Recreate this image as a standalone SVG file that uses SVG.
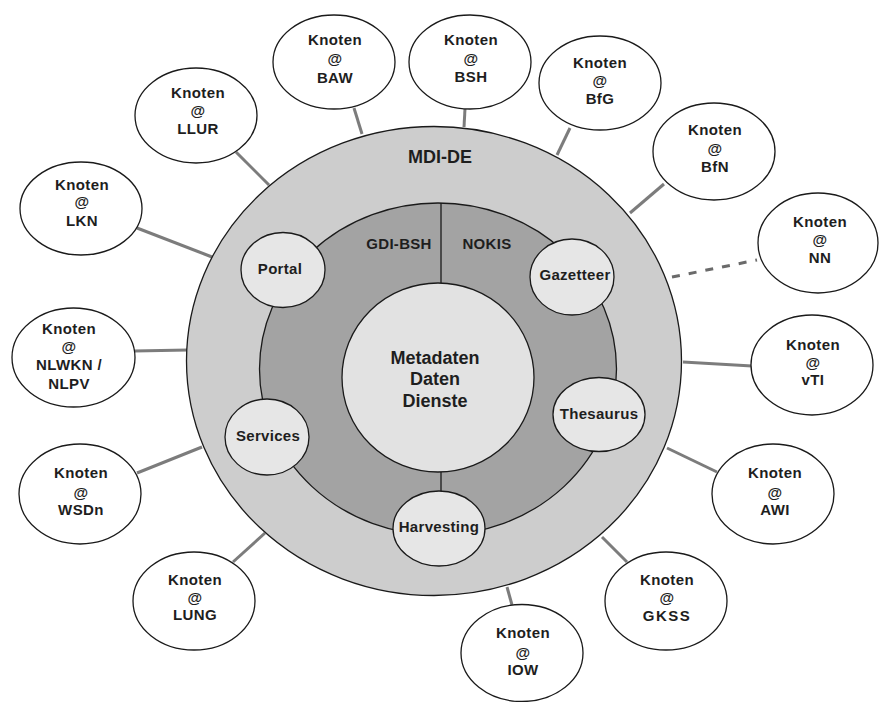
<svg xmlns="http://www.w3.org/2000/svg" width="879" height="702" viewBox="0 0 879 702">
<style>
  text { font-family: "Liberation Sans", Arial, sans-serif; font-weight: bold; text-anchor: middle; fill: #1e1e1e; }
  .knoten { font-size: 15px; letter-spacing: 0.4px; }
  .sat { font-size: 15px; letter-spacing: 0.3px; }
  .conn { stroke: #7c7c7c; stroke-width: 3; fill: none; stroke-linecap: butt; }
  .dash { stroke: #6a6a6a; stroke-width: 3; fill: none; stroke-dasharray: 8 9; }
  .node { fill: #ffffff; stroke: #1a1a1a; stroke-width: 1.3; }
  .satc { fill: #e6e6e6; stroke: #1a1a1a; stroke-width: 1.3; }
</style>
<rect width="879" height="702" fill="#ffffff"/>

<g id="connectors">
  <line class="conn" x1="137" y1="228" x2="212" y2="257"/>
  <line class="conn" x1="236" y1="152" x2="269" y2="185"/>
  <line class="conn" x1="354" y1="108" x2="362" y2="134"/>
  <line class="conn" x1="465" y1="109" x2="464" y2="127"/>
  <line class="conn" x1="570" y1="128" x2="557" y2="155"/>
  <line class="conn" x1="664" y1="184" x2="630" y2="213"/>
  <line class="dash" x1="672" y1="277" x2="757" y2="260"/>
  <line class="conn" x1="134" y1="351" x2="188" y2="350"/>
  <line class="conn" x1="137" y1="473" x2="202" y2="447"/>
  <line class="conn" x1="233" y1="562" x2="265" y2="533"/>
  <line class="conn" x1="683" y1="362" x2="752" y2="366"/>
  <line class="conn" x1="667" y1="448" x2="717" y2="472"/>
  <line class="conn" x1="602" y1="537" x2="627" y2="562"/>
  <line class="conn" x1="507" y1="587" x2="512" y2="605"/>
</g>

<g id="mdi-de">
  <ellipse cx="434" cy="361" rx="247.5" ry="234.5" fill="#cdcdcd" stroke="#1a1a1a" stroke-width="1.3"/>
  <text x="440" y="163" style="font-size:18px" fill="#2a2a2a">MDI-DE</text>
</g>

<g id="ring">
  <ellipse cx="438" cy="369" rx="178.5" ry="166" fill="#a3a3a3" stroke="#1a1a1a" stroke-width="1.3"/>
  <line x1="441" y1="203" x2="441" y2="283" stroke="#1a1a1a" stroke-width="1.3"/>
  <line x1="441" y1="472" x2="441" y2="492" stroke="#1a1a1a" stroke-width="1.3"/>
  <text x="399" y="249" style="font-size:15px;font-weight:bold;letter-spacing:0.3px" fill="#555555">GDI-BSH</text>
  <text x="487" y="249" style="font-size:15px;font-weight:bold;letter-spacing:0.3px" fill="#555555">NOKIS</text>
</g>

<g id="core">
  <ellipse cx="438" cy="377.5" rx="96" ry="94.5" fill="#e2e2e2" stroke="#1a1a1a" stroke-width="1.3"/>
  <text x="435" y="364" style="font-size:18px">Metadaten</text>
  <text x="435" y="385" style="font-size:18px">Daten</text>
  <text x="435" y="407" style="font-size:18px">Dienste</text>
</g>

<g id="portal">
  <ellipse class="satc" cx="283" cy="270" rx="42" ry="37.5"/>
  <text class="sat" x="280" y="274">Portal</text>
</g>
<g id="gazetteer">
  <ellipse class="satc" cx="572" cy="277" rx="42" ry="38"/>
  <text class="sat" x="575" y="280">Gazetteer</text>
</g>
<g id="services">
  <ellipse class="satc" cx="267" cy="437" rx="42" ry="38"/>
  <text class="sat" x="268" y="441">Services</text>
</g>
<g id="thesaurus">
  <ellipse class="satc" cx="599" cy="414.5" rx="46" ry="37"/>
  <text class="sat" x="599" y="419">Thesaurus</text>
</g>
<g id="harvesting">
  <ellipse class="satc" cx="439" cy="528.5" rx="46" ry="37.5"/>
  <text class="sat" x="439" y="532">Harvesting</text>
</g>

<g id="knoten-baw">
  <ellipse class="node" cx="334" cy="62" rx="61" ry="47"/>
  <text class="knoten" x="335" y="45">Knoten</text><text class="knoten" x="335" y="64">@</text><text class="knoten" x="335" y="83">BAW</text>
</g>
<g id="knoten-bsh">
  <ellipse class="node" cx="470" cy="62" rx="61" ry="47"/>
  <text class="knoten" x="471" y="45">Knoten</text><text class="knoten" x="471" y="64">@</text><text class="knoten" x="471" y="82">BSH</text>
</g>
<g id="knoten-bfg">
  <ellipse class="node" cx="600" cy="83" rx="61" ry="47"/>
  <text class="knoten" x="600" y="68">Knoten</text><text class="knoten" x="600" y="86">@</text><text class="knoten" x="600" y="104">BfG</text>
</g>
<g id="knoten-bfn">
  <ellipse class="node" cx="714" cy="151.5" rx="61" ry="48.5"/>
  <text class="knoten" x="715" y="135">Knoten</text><text class="knoten" x="715" y="154">@</text><text class="knoten" x="715" y="172">BfN</text>
</g>
<g id="knoten-nn">
  <ellipse class="node" cx="818" cy="243" rx="60" ry="50"/>
  <text class="knoten" x="820" y="227">Knoten</text><text class="knoten" x="820" y="245">@</text><text class="knoten" x="820" y="263">NN</text>
</g>
<g id="knoten-vti">
  <ellipse class="node" cx="812" cy="365" rx="61" ry="50"/>
  <text class="knoten" x="813" y="350">Knoten</text><text class="knoten" x="813" y="368">@</text><text class="knoten" x="813" y="385">vTI</text>
</g>
<g id="knoten-awi">
  <ellipse class="node" cx="773" cy="494" rx="61" ry="50"/>
  <text class="knoten" x="775" y="478">Knoten</text><text class="knoten" x="775" y="498">@</text><text class="knoten" x="775" y="515">AWI</text>
</g>
<g id="knoten-gkss">
  <ellipse class="node" cx="666" cy="601" rx="61" ry="49"/>
  <text class="knoten" x="667" y="585">Knoten</text><text class="knoten" x="667" y="603">@</text><text class="knoten" x="667" y="621" style="letter-spacing:1.5px">GKSS</text>
</g>
<g id="knoten-iow">
  <ellipse class="node" cx="522" cy="653" rx="61" ry="48.5"/>
  <text class="knoten" x="523" y="638">Knoten</text><text class="knoten" x="523" y="658">@</text><text class="knoten" x="523" y="675">IOW</text>
</g>
<g id="knoten-lung">
  <ellipse class="node" cx="194" cy="601" rx="61" ry="49"/>
  <text class="knoten" x="195" y="585">Knoten</text><text class="knoten" x="195" y="603">@</text><text class="knoten" x="195" y="620">LUNG</text>
</g>
<g id="knoten-wsdn">
  <ellipse class="node" cx="80" cy="494" rx="61" ry="50"/>
  <text class="knoten" x="81" y="478">Knoten</text><text class="knoten" x="81" y="498">@</text><text class="knoten" x="81" y="515">WSDn</text>
</g>
<g id="knoten-nlwkn">
  <ellipse class="node" cx="73.5" cy="357.5" rx="61.5" ry="49.5"/>
  <text class="knoten" x="69" y="334">Knoten</text><text class="knoten" x="69" y="352">@</text><text class="knoten" x="69" y="370">NLWKN /</text><text class="knoten" x="69" y="389">NLPV</text>
</g>
<g id="knoten-lkn">
  <ellipse class="node" cx="81" cy="208.5" rx="61" ry="46.5"/>
  <text class="knoten" x="82" y="190">Knoten</text><text class="knoten" x="82" y="207">@</text><text class="knoten" x="82" y="226">LKN</text>
</g>
<g id="knoten-llur">
  <ellipse class="node" cx="196" cy="115.5" rx="61" ry="47.5"/>
  <text class="knoten" x="198" y="98">Knoten</text><text class="knoten" x="198" y="116">@</text><text class="knoten" x="198" y="134">LLUR</text>
</g>
</svg>
